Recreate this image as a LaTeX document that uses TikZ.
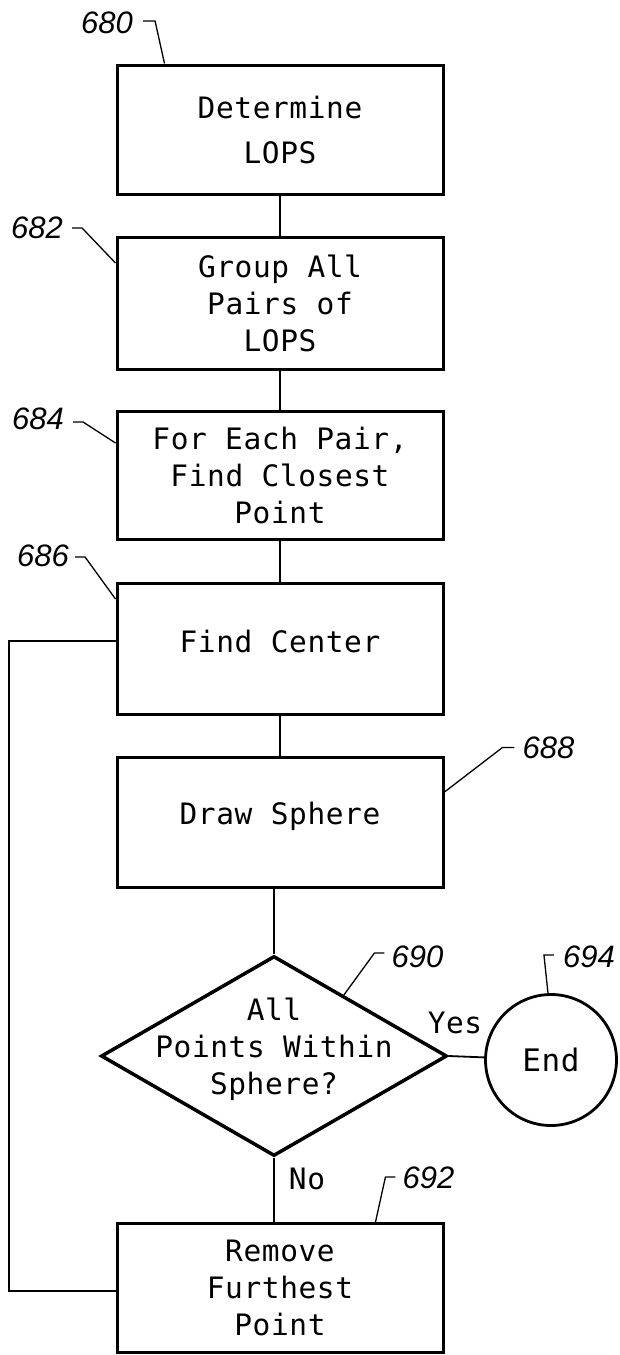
\documentclass[tikz,border=0pt]{standalone}
\usepackage{fontspec}
\usetikzlibrary{shapes.geometric,calc}
\newfontfamily\boxfont[LetterSpace=2]{DejaVu Sans Mono}
\newfontfamily\numfont{Liberation Sans}
\begin{document}
\begin{tikzpicture}[x=1pt,y=-1pt,
  box/.style={draw, line width=3pt, minimum width=326pt, minimum height=129pt,
    inner sep=0pt, align=center, font=\boxfont\fontsize{29.5}{37}\selectfont},
  txt/.style={inner sep=0pt, align=center, font=\boxfont\fontsize{29.5}{37}\selectfont},
  link/.style={line width=1.8pt},
  lead/.style={line width=1.3pt},
  num/.style={inner sep=0pt, font=\numfont\itshape\fontsize{31}{31}\selectfont}]
\useasboundingbox (0,0) rectangle (619,1355);

% process boxes
\node[box] (b1) at (280,129.5) {Determine\\[8pt]LOPS};
\node[box, minimum height=132pt] (b2) at (280,303) {Group All\\Pairs of\\LOPS};
\node[box, minimum height=128pt] (b3) at (280,475) {For Each Pair,\\Find Closest\\Point};
\node[box, minimum height=131pt] (b4) at (280,648.5) {\raisebox{7.5pt}[\height][\depth]{Find Center}};
\node[box, minimum height=130pt] (b5) at (280,822) {\raisebox{5.5pt}[\height][\depth]{Draw Sphere}};
\node[box] (b6) at (280,1288) {Remove\\Furthest\\Point};

% decision and terminal
\node[diamond, draw, line width=3.5pt, minimum width=346pt, minimum height=200pt, inner sep=0pt] (dia) at (274,1056) {};
\node[txt, yshift=7pt] (diatxt) at (dia) {All\\Points Within\\Sphere?};
\node[circle, draw, line width=2.8pt, minimum size=131pt, inner sep=0pt,
  font=\boxfont\fontsize{31}{31}\selectfont] (end) at (551,1060) {End};

% connectors
\draw[link] (b1.south) -- (b2.north);
\draw[link] (b2.south) -- (b3.north);
\draw[link] (b3.south) -- (b4.north);
\draw[link] (b4.south) -- (b5.north);
\draw[link] (dia.north |- b5.south) -- (dia.north);
\draw[link] (dia.east) -- (end);
\draw[link] (dia.south) -- (dia.south |- b6.north);
\coordinate (loop) at (9,641);
\draw[link] ([yshift=-3pt]b6.west) -| (loop) -- ([yshift=7.5pt]b4.west);

% branch labels
\node[txt] (yes) at (455,1022.5) {Yes};
\node[txt] (no) at (307,1179) {No};

% reference numerals
\node[num] (n680) at (107,22.5) {680};
\draw[lead] ([xshift=10pt,yshift=1.5pt]n680.east) -- ++(12,0) -- ([xshift=49pt]b1.north west);
\node[num] (n682) at (37,228) {682};
\draw[lead] ([xshift=9pt]n682.east) -- ++(10,0) -- ([yshift=40pt]b2.west);
\node[num] (n684) at (38,419) {684};
\draw[lead] ([xshift=9pt,yshift=-3pt]n684.east) -- ++(10,0) -- ([yshift=32pt]b3.west);
\node[num] (n686) at (43,556) {686};
\draw[lead] ([xshift=6pt,yshift=-1pt]n686.east) -- ++(10,0) -- ([yshift=49.5pt]b4.west);
\node[num] (n688) at (548.5,747.5) {688};
\draw[lead] ([xshift=-8pt]n688.west) -- ++(-12,0) -- ([yshift=30pt]b5.east);
\node[num] (n690) at (417.5,956.5) {690};
\draw[lead] ([xshift=-7pt,yshift=3.5pt]n690.west) -- ++(-10,0) -- ($(dia.north)!0.4!(dia.east)$);
\node[num] (n692) at (428.5,1178) {692};
\draw[lead] ([xshift=-7pt,yshift=1pt]n692.west) -- ++(-10,0) -- ([xshift=260pt]b6.north west);
\node[num] (n694) at (589,956.5) {694};
\draw[lead] ([xshift=-9pt,yshift=1.5pt]n694.west) -- ++(-10,0) -- ([xshift=-3pt]end.north);
\end{tikzpicture}
\end{document}
